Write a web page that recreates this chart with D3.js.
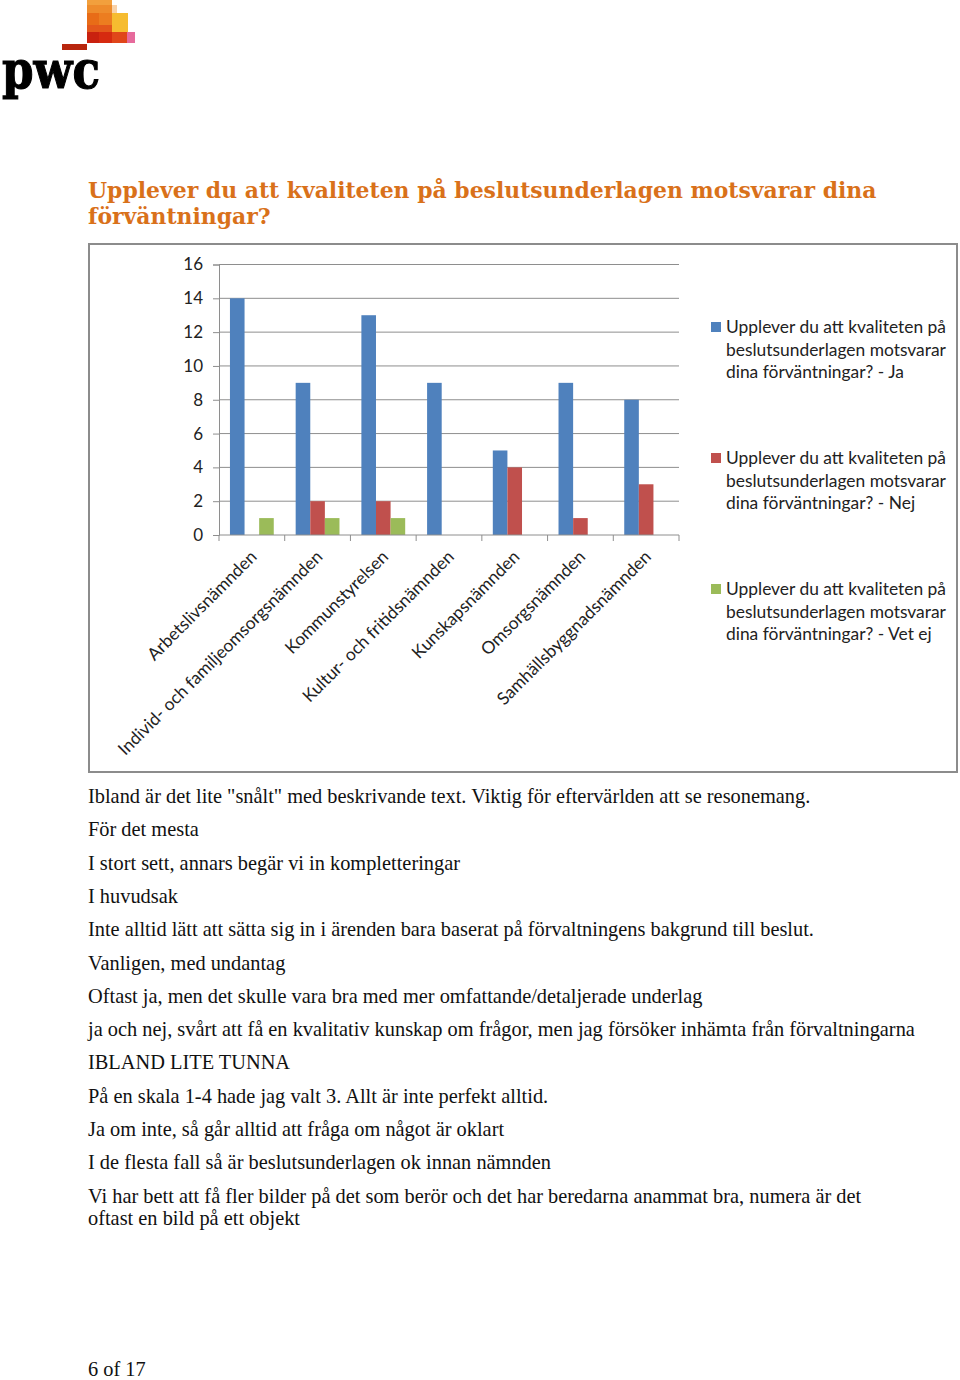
<!DOCTYPE html>
<html><head><meta charset="utf-8">
<script src="https://cdn.jsdelivr.net/npm/d3@7"></script>
<style>body{margin:0;background:#fff}</style>
</head><body>
<svg id="page" width="960" height="1380"></svg>
<script>
const categories = ["Arbetslivsnämnden","Individ- och familjeomsorgsnämnden","Kommunstyrelsen","Kultur- och fritidsnämnden","Kunskapsnämnden","Omsorgsnämnden","Samhällsbyggnadsnämnden"];
const seriesJa = [14, 9, 13, 9, 5, 9, 8];
const seriesNej = [0, 2, 2, 0, 4, 1, 3];
const seriesVetEj = [1, 1, 1, 0, 0, 0, 0];
const seriesNames = ["Ja", "Nej", "Vet ej"];
const seriesColors = ["#4F81BD", "#C0504D", "#9BBB59"];
const yTicks = [0, 2, 4, 6, 8, 10, 12, 14, 16];
const legendPrefix = ["Upplever du att kvaliteten på", "beslutsunderlagen motsvarar", "dina förväntningar? - "];
const titleLines = ["Upplever du att kvaliteten på beslutsunderlagen motsvarar dina", "förväntningar?"];
const comments = [
  "Ibland är det lite \"snålt\" med beskrivande text. Viktig för eftervärlden att se resonemang.",
  "För det mesta",
  "I stort sett, annars begär vi in kompletteringar",
  "I huvudsak",
  "Inte alltid lätt att sätta sig in i ärenden bara baserat på förvaltningens bakgrund till beslut.",
  "Vanligen, med undantag",
  "Oftast ja, men det skulle vara bra med mer omfattande/detaljerade underlag",
  "ja och nej, svårt att få en kvalitativ kunskap om frågor, men jag försöker inhämta från förvaltningarna",
  "IBLAND LITE TUNNA",
  "På en skala 1-4 hade jag valt 3. Allt är inte perfekt alltid.",
  "Ja om inte, så går alltid att fråga om något är oklart",
  "I de flesta fall så är beslutsunderlagen ok innan nämnden",
  "Vi har bett att få fler bilder på det som berör och det har beredarna anammat bra, numera är det\noftast en bild på ett objekt"
];
const footerText = "6 of 17";

const svg = d3.select("#page");

function fitWidth(sel, target) {
  const w = sel.node().getComputedTextLength();
  const fs = parseFloat(sel.attr("font-size"));
  sel.attr("font-size", fs * target / w);
  return fs * target / w;
}

// ---- Logo ----
const logo = svg.append("g");
const logoBlocks = [
  [87,0,25,5,"#F2A03D"],[87,5,25,8,"#EE8C2C"],[112,5,5,8,"#F9D2A8"],
  [87,13,12,12,"#E86C17"],[99,13,13,12,"#EC7D20"],[112,13,16,19,"#F6BC30"],
  [87,25,25,7,"#E3571B"],[87,32,12,11,"#C9210F"],[99,32,13,11,"#D62A10"],
  [112,32,15,11,"#E0461A"],[127,32,8,11,"#E66A9C"],[62,44,25,6,"#B8260E"]
];
logo.selectAll("rect").data(logoBlocks).join("rect")
  .attr("x", d => d[0]).attr("y", d => d[1]).attr("width", d => d[2]).attr("height", d => d[3]).attr("fill", d => d[4]);
const pwc = logo.append("text").attr("x", 2).attr("y", 88)
  .attr("font-family", "DejaVu Serif").attr("font-weight", "bold").attr("font-size", 40)
  .attr("fill", "#000").attr("stroke", "#000").attr("stroke-width", 1).text("pwc");
fitWidth(pwc, 98);
pwc.attr("transform", "translate(0,88) scale(1,1.15) translate(0,-88)");

// ---- Title ----
const titleG = svg.append("g");
const t1 = titleG.append("text").attr("x", 88).attr("y", 198)
  .attr("font-family", "DejaVu Serif").attr("font-weight", "bold").attr("font-size", 20)
  .attr("fill", "#D9711A").text(titleLines[0]);
const tfs = fitWidth(t1, 789);
titleG.append("text").attr("x", 88).attr("y", 224)
  .attr("font-family", "DejaVu Serif").attr("font-weight", "bold").attr("font-size", tfs)
  .attr("fill", "#D9711A").text(titleLines[1]);

// ---- Chart frame ----
svg.append("rect").attr("x", 89).attr("y", 244).attr("width", 868).attr("height", 528)
  .attr("fill", "#fff").attr("stroke", "#8C8C8C").attr("stroke-width", 2);

const plot = {left: 219, right: 679, top: 264.5, bottom: 535};
const x = d3.scaleBand().domain(categories).range([plot.left, plot.right]).paddingInner(0).paddingOuter(0);
const y = d3.scaleLinear().domain([0, 16]).range([plot.bottom, plot.top]);
const bw = x.bandwidth();
const xs = d3.scaleBand().domain(seriesNames).range([0, bw]).paddingInner(0).paddingOuter(0.75);

// gridlines
svg.append("g").selectAll("line").data(yTicks.filter(v => v > 0)).join("line")
  .attr("x1", plot.left).attr("x2", plot.right)
  .attr("y1", d => y(d)).attr("y2", d => y(d))
  .attr("stroke", "#8E8E8E").attr("stroke-width", 1);

// y axis
const yAxis = svg.append("g").attr("transform", `translate(${plot.left},0)`)
  .call(d3.axisLeft(y).tickValues(yTicks).tickSize(6).tickPadding(10).tickFormat(d3.format("d")));
yAxis.select(".domain").attr("stroke", "#8E8E8E");
yAxis.selectAll(".tick line").attr("stroke", "#8E8E8E");
yAxis.selectAll("text").attr("font-family", "Lato").attr("font-size", 17).attr("fill", "#222");

// bars
const allSeries = [seriesJa, seriesNej, seriesVetEj];
const barG = svg.append("g");
allSeries.forEach((vals, si) => {
  barG.append("g").selectAll("rect").data(vals.map((v, i) => ({c: categories[i], v})))
    .join("rect")
    .attr("x", d => x(d.c) + xs(seriesNames[si]))
    .attr("width", xs.bandwidth())
    .attr("y", d => y(d.v))
    .attr("height", d => y(0) - y(d.v))
    .attr("fill", seriesColors[si]);
});

// x axis
const xAxisG = svg.append("g").attr("transform", `translate(0,${plot.bottom})`);
xAxisG.append("line").attr("x1", plot.left).attr("x2", plot.right).attr("stroke", "#8E8E8E");
const bounds = categories.map(c => x(c)).concat([plot.right]);
xAxisG.selectAll("line.tk").data(bounds).join("line").attr("class", "tk")
  .attr("x1", d => d).attr("x2", d => d).attr("y1", 0).attr("y2", 6).attr("stroke", "#8E8E8E");
xAxisG.selectAll("text").data(categories).join("text")
  .attr("transform", d => `translate(${x(d) + bw / 2 + 6},${23}) rotate(-45)`)
  .attr("text-anchor", "end")
  .attr("font-family", "Lato").attr("font-size", 17.4).attr("fill", "#222")
  .text(d => d);

// legend
const legend = svg.append("g");
seriesNames.forEach((n, i) => {
  const gy = 327 + i * 131;
  legend.append("rect").attr("x", 711).attr("y", gy - 5).attr("width", 10).attr("height", 10).attr("fill", seriesColors[i]);
  const lines = [legendPrefix[0], legendPrefix[1], legendPrefix[2] + n];
  lines.forEach((ln, j) => {
    legend.append("text").attr("x", 726).attr("y", gy + 6 + j * 22.7)
      .attr("font-family", "Lato").attr("font-size", 17.4).attr("fill", "#222").text(ln);
  });
});

// ---- Comments ----
const bodyG = svg.append("g");
const probe = bodyG.append("text").attr("font-family", "Liberation Serif").attr("font-size", 18).text(comments[7]);
const bfs = fitWidth(probe, 827);
probe.remove();
let yy = 803;
comments.forEach((c, i) => {
  const parts = c.split("\n");
  parts.forEach((p, k) => {
    bodyG.append("text").attr("x", 88).attr("y", yy + k * 22)
      .attr("font-family", "Liberation Serif").attr("font-size", bfs).attr("fill", "#111").text(p);
  });
  yy += 33.3;
});

svg.append("text").attr("x", 88).attr("y", 1376)
  .attr("font-family", "Liberation Serif").attr("font-size", bfs).attr("fill", "#111").text(footerText);
</script>
</body></html>
